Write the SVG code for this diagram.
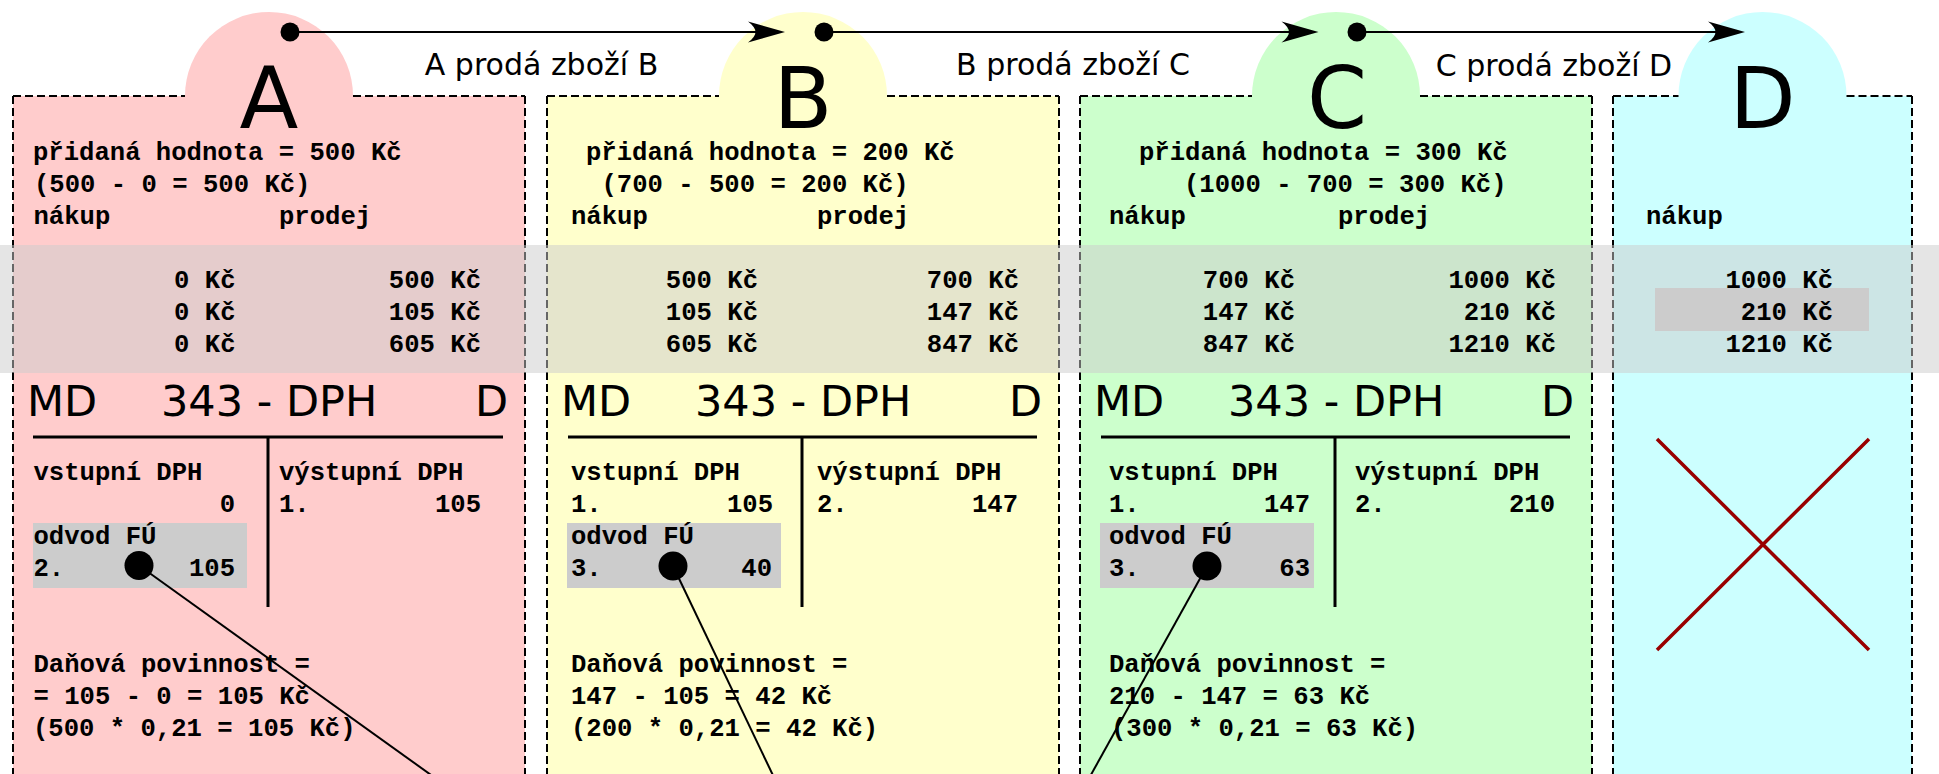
<svg xmlns="http://www.w3.org/2000/svg" width="1939" height="774" viewBox="0 0 1939 774">
<style>
.edge{fill:none;stroke:#000;stroke-width:2;stroke-dasharray:8,4}
.m{font-family:"Liberation Mono","Courier New",monospace;font-weight:bold;font-size:25.6px;fill:#000}
.e{text-anchor:end}
.big{font-family:"DejaVu Sans",sans-serif;font-size:86px;text-anchor:middle;fill:#000}
.hd{font-family:"DejaVu Sans",sans-serif;font-size:43px;fill:#000}
.lbl{font-family:"DejaVu Sans",sans-serif;font-size:30px;text-anchor:middle;fill:#000}
.t{stroke:#000;stroke-width:3;fill:none}
.con{stroke:#000;stroke-width:2;fill:none}
.fu{fill:#cccccc}
</style>
<defs>
<marker id="arr" markerUnits="userSpaceOnUse" markerWidth="40" markerHeight="24" viewBox="-38 -12 40 24" refX="-10" refY="0" orient="auto">
<path d="M0,0 L-37,-10.5 C-27,-3 -27,3 -37,10.5 Z" fill="#000"/>
</marker>
</defs>
<rect width="1939" height="774" fill="#fff"/>

<g id="boxes">
<g id="box-A">
<circle cx="269" cy="96" r="84" fill="#ffcccc"/>
<rect x="13" y="96" width="512" height="700" fill="#ffcccc"/>
<path class="edge" d="M13,96 H185 M353,96 H525 M13,96 V790 M525,96 V790"/>
</g>
<g id="box-B">
<circle cx="803" cy="96" r="84" fill="#ffffcc"/>
<rect x="547" y="96" width="512" height="700" fill="#ffffcc"/>
<path class="edge" d="M547,96 H719 M887,96 H1059 M547,96 V790 M1059,96 V790"/>
</g>
<g id="box-C">
<circle cx="1336" cy="96" r="84" fill="#ccffcc"/>
<rect x="1080" y="96" width="512" height="700" fill="#ccffcc"/>
<path class="edge" d="M1080,96 H1252 M1420,96 H1592 M1080,96 V790 M1592,96 V790"/>
</g>
<g id="box-D">
<circle cx="1762.5" cy="96" r="84" fill="#ccffff"/>
<rect x="1613" y="96" width="299" height="700" fill="#ccffff"/>
<path class="edge" d="M1613,96 H1678.5 M1846.5,96 H1912 M1613,96 V790 M1912,96 V790"/>
</g>
</g>

<rect id="band" x="0" y="245" width="1939" height="128" fill="#cccccc" fill-opacity="0.5"/>

<g id="node-A">
<text class="big" x="269" y="128">A</text>
<text class="m" x="33" y="160">přidaná hodnota = 500 Kč</text>
<text class="m" x="34" y="192">(500 - 0 = 500 Kč)</text>
<text class="m" x="33.5" y="224">nákup</text>
<text class="m" x="279" y="224">prodej</text>
<text class="m e" x="235.5" y="288">0 Kč</text>
<text class="m e" x="235.5" y="320">0 Kč</text>
<text class="m e" x="235.5" y="352">0 Kč</text>
<text class="m e" x="481" y="288">500 Kč</text>
<text class="m e" x="481" y="320">105 Kč</text>
<text class="m e" x="481" y="352">605 Kč</text>
<text class="hd" x="27" y="416">MD</text>
<text class="hd" x="161" y="416">343 - DPH</text>
<text class="hd" x="475" y="416">D</text>
<path class="t" d="M33,437 H503 M268,437 V607"/>
<text class="m" x="33.5" y="480">vstupní DPH</text>
<text class="m e" x="235" y="512">0</text>
<text class="m" x="279" y="480">výstupní DPH</text>
<text class="m" x="279" y="512">1.</text>
<text class="m e" x="481" y="512">105</text>
<rect class="fu" x="33" y="523" width="214" height="65"/>
<text class="m" x="33.5" y="544">odvod FÚ</text>
<text class="m" x="33.5" y="576">2.</text>
<text class="m e" x="235" y="576">105</text>
<text class="m" x="33.5" y="672">Daňová povinnost =</text>
<text class="m" x="33.5" y="704">= 105 - 0 = 105 Kč</text>
<text class="m" x="33" y="736">(500 * 0,21 = 105 Kč)</text>
</g>

<g id="node-B">
<text class="big" x="803" y="128">B</text>
<text class="m" x="586" y="160">přidaná hodnota = 200 Kč</text>
<text class="m" x="601.5" y="192">(700 - 500 = 200 Kč)</text>
<text class="m" x="571" y="224">nákup</text>
<text class="m" x="817" y="224">prodej</text>
<text class="m e" x="758" y="288">500 Kč</text>
<text class="m e" x="758" y="320">105 Kč</text>
<text class="m e" x="758" y="352">605 Kč</text>
<text class="m e" x="1019" y="288">700 Kč</text>
<text class="m e" x="1019" y="320">147 Kč</text>
<text class="m e" x="1019" y="352">847 Kč</text>
<text class="hd" x="561" y="416">MD</text>
<text class="hd" x="695" y="416">343 - DPH</text>
<text class="hd" x="1009" y="416">D</text>
<path class="t" d="M568,437 H1037 M802,437 V607"/>
<text class="m" x="571" y="480">vstupní DPH</text>
<text class="m" x="571" y="512">1.</text>
<text class="m e" x="773" y="512">105</text>
<text class="m" x="817" y="480">výstupní DPH</text>
<text class="m" x="817" y="512">2.</text>
<text class="m e" x="1018" y="512">147</text>
<rect class="fu" x="567" y="523" width="214" height="65"/>
<text class="m" x="571" y="544">odvod FÚ</text>
<text class="m" x="571" y="576">3.</text>
<text class="m e" x="772" y="576">40</text>
<text class="m" x="571" y="672">Daňová povinnost =</text>
<text class="m" x="571" y="704">147 - 105 = 42 Kč</text>
<text class="m" x="571" y="736">(200 * 0,21 = 42 Kč)</text>
</g>

<g id="node-C">
<text class="big" x="1337" y="128">C</text>
<text class="m" x="1139" y="160">přidaná hodnota = 300 Kč</text>
<text class="m" x="1184" y="192">(1000 - 700 = 300 Kč)</text>
<text class="m" x="1109" y="224">nákup</text>
<text class="m" x="1338" y="224">prodej</text>
<text class="m e" x="1295" y="288">700 Kč</text>
<text class="m e" x="1295" y="320">147 Kč</text>
<text class="m e" x="1295" y="352">847 Kč</text>
<text class="m e" x="1556" y="288">1000 Kč</text>
<text class="m e" x="1556" y="320">210 Kč</text>
<text class="m e" x="1556" y="352">1210 Kč</text>
<text class="hd" x="1094" y="416">MD</text>
<text class="hd" x="1228" y="416">343 - DPH</text>
<text class="hd" x="1541" y="416">D</text>
<path class="t" d="M1101,437 H1570 M1335,437 V607"/>
<text class="m" x="1109" y="480">vstupní DPH</text>
<text class="m" x="1109" y="512">1.</text>
<text class="m e" x="1310" y="512">147</text>
<text class="m" x="1355" y="480">výstupní DPH</text>
<text class="m" x="1355" y="512">2.</text>
<text class="m e" x="1555" y="512">210</text>
<rect class="fu" x="1100" y="523" width="214" height="65"/>
<text class="m" x="1109" y="544">odvod FÚ</text>
<text class="m" x="1109" y="576">3.</text>
<text class="m e" x="1310" y="576">63</text>
<text class="m" x="1109" y="672">Daňová povinnost =</text>
<text class="m" x="1109" y="704">210 - 147 = 63 Kč</text>
<text class="m" x="1111" y="736">(300 * 0,21 = 63 Kč)</text>
</g>

<g id="node-D">
<text class="big" x="1762.5" y="128">D</text>
<text class="m" x="1646" y="224">nákup</text>
<rect class="fu" x="1655" y="288" width="214" height="43"/>
<text class="m e" x="1833" y="288">1000 Kč</text>
<text class="m e" x="1833" y="320">210 Kč</text>
<text class="m e" x="1833" y="352">1210 Kč</text>
<path d="M1657,439 L1869,650 M1869,439 L1657,650" stroke="#990000" stroke-width="3.5" fill="none"/>
</g>

<g id="connectors">
<line class="con" x1="290" y1="32" x2="775" y2="32" marker-end="url(#arr)"/>
<line class="con" x1="824" y1="32" x2="1308.5" y2="32" marker-end="url(#arr)"/>
<line class="con" x1="1357" y1="32" x2="1735" y2="32" marker-end="url(#arr)"/>
<circle cx="290" cy="32" r="9.5"/>
<circle cx="824" cy="32" r="9.5"/>
<circle cx="1357" cy="32" r="9.5"/>
<text class="lbl" x="541.5" y="75">A prodá zboží B</text>
<text class="lbl" x="1073" y="75">B prodá zboží C</text>
<text class="lbl" x="1554" y="76">C prodá zboží D</text>
<line class="con" x1="139" y1="565.5" x2="452" y2="790" stroke-width="3"/>
<line class="con" x1="673" y1="566" x2="780" y2="790" stroke-width="3"/>
<line class="con" x1="1207" y1="566" x2="1082.5" y2="790" stroke-width="3"/>
<circle cx="139" cy="565.5" r="14.5"/>
<circle cx="673" cy="566" r="14.5"/>
<circle cx="1207" cy="566" r="14.5"/>
</g>
</svg>
